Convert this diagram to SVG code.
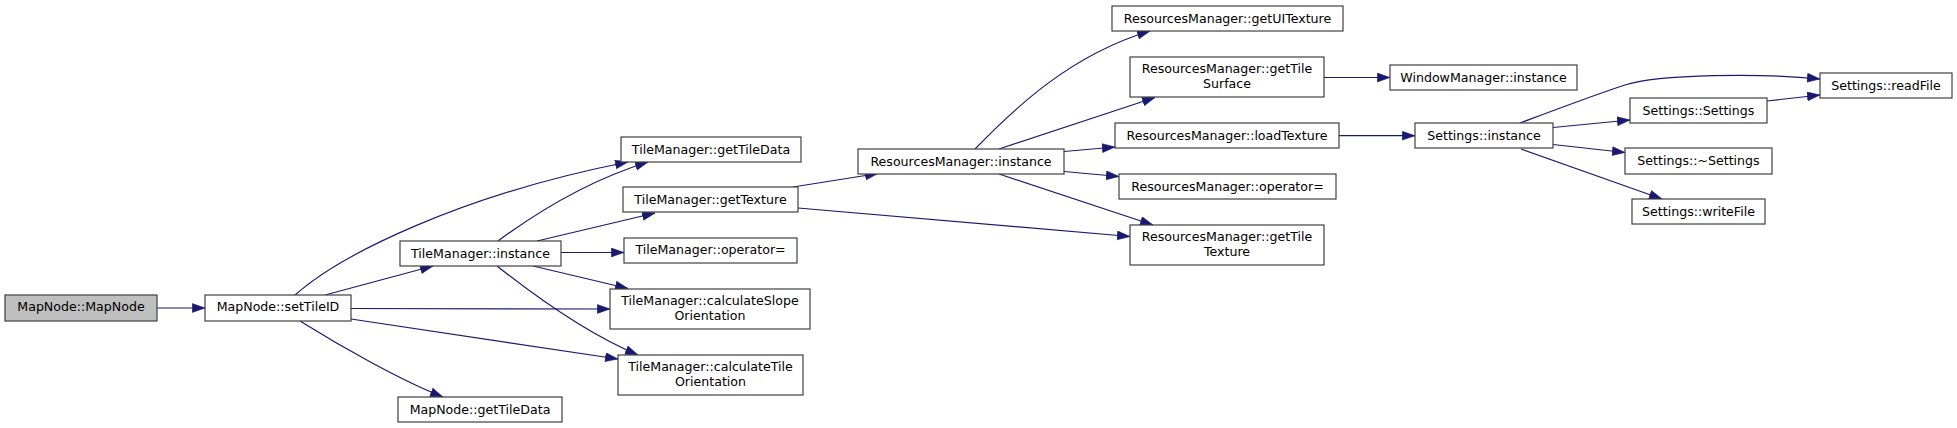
<svg xmlns="http://www.w3.org/2000/svg" width="1957" height="428" viewBox="0 0 1957 428">
<style>
.n rect{fill:#fff;stroke:#404040;stroke-width:1.2}
.root rect{fill:#bfbfbf}
.n text{font-family:"DejaVu Sans",sans-serif;font-size:12.6px;fill:#000;text-anchor:middle}
.e path{fill:none;stroke:#191970;stroke-width:1.2;marker-end:url(#a)}
</style>
<defs>
<marker id="a" markerUnits="userSpaceOnUse" markerWidth="14" markerHeight="11" refX="13" refY="4.7" orient="auto">
<path d="M0.3,0.3 L13,4.7 L0.3,9.1 z" fill="#191970" stroke="#191970" stroke-width="0.6"/>
</marker>
</defs>
<rect width="1957" height="428" fill="#fff"/>
<g id="edges" class="e">
<path d="M157,308 L205,308"/>
<path d="M295,295 C340,255 460,195 628,162"/>
<path d="M325,295 L433,266"/>
<path d="M351,308.5 L610,309"/>
<path d="M351,319 L618,359"/>
<path d="M300,321 C340,346 400,380 443,397"/>
<path d="M498,241 C540,210 590,180 648,162"/>
<path d="M537,241 L655,213"/>
<path d="M561,252.5 L624,252.5"/>
<path d="M533,266 L628,288.5"/>
<path d="M497,266 C540,300 590,335 638,355"/>
<path d="M793,187 L878,173.5"/>
<path d="M798,208 L1130,236.5"/>
<path d="M975,149 C1015,108 1070,55 1150,31"/>
<path d="M999,149 L1155,97.5"/>
<path d="M1064,151.5 L1115,147"/>
<path d="M1064,171.5 L1119,176.5"/>
<path d="M999,174 L1153,225"/>
<path d="M1324,77.5 L1390,77.5"/>
<path d="M1339,135.7 L1415,135.7"/>
<path d="M1520,123 C1560,108 1600,93 1625,85 C1660,74 1760,73 1820,79"/>
<path d="M1553,127.5 L1630,120"/>
<path d="M1553,144.5 L1625,152.5"/>
<path d="M1521,149 L1662,199"/>
<path d="M1767,101 L1820,95"/>
</g>
<g id="MapNode_MapNode" class="n root"><rect x="5" y="295" width="152" height="26"/><text x="81" y="311">MapNode::MapNode</text></g>
<g id="MapNode_setTileID" class="n"><rect x="205" y="295" width="146" height="26"/><text x="278" y="311">MapNode::setTileID</text></g>
<g id="TileManager_getTileData" class="n"><rect x="621" y="137" width="180" height="25"/><text x="711" y="153.5">TileManager::getTileData</text></g>
<g id="TileManager_getTexture" class="n"><rect x="623" y="187" width="175" height="25"/><text x="710.5" y="203.5">TileManager::getTexture</text></g>
<g id="TileManager_operator_eq" class="n"><rect x="624" y="238" width="173" height="25"/><text x="710.5" y="254">TileManager::operator=</text></g>
<g id="TileManager_calculateSlopeOrientation" class="n"><rect x="610" y="289" width="200" height="40"/><text x="710" y="305">TileManager::calculateSlope</text><text x="710" y="319.5">Orientation</text></g>
<g id="TileManager_calculateTileOrientation" class="n"><rect x="618" y="355" width="185" height="40"/><text x="710.5" y="371">TileManager::calculateTile</text><text x="710.5" y="385.5">Orientation</text></g>
<g id="TileManager_instance" class="n"><rect x="400" y="241" width="161" height="25"/><text x="480.5" y="257.5">TileManager::instance</text></g>
<g id="MapNode_getTileData" class="n"><rect x="398" y="397" width="164" height="25"/><text x="480" y="413.5">MapNode::getTileData</text></g>
<g id="ResourcesManager_instance" class="n"><rect x="858" y="149" width="206" height="25"/><text x="961" y="165.5">ResourcesManager::instance</text></g>
<g id="ResourcesManager_getUITexture" class="n"><rect x="1112" y="6" width="231" height="25"/><text x="1227.5" y="22.5">ResourcesManager::getUITexture</text></g>
<g id="ResourcesManager_getTileSurface" class="n"><rect x="1130" y="57" width="194" height="40"/><text x="1227" y="73">ResourcesManager::getTile</text><text x="1227" y="87.5">Surface</text></g>
<g id="ResourcesManager_loadTexture" class="n"><rect x="1115" y="123" width="224" height="25"/><text x="1227" y="139.5">ResourcesManager::loadTexture</text></g>
<g id="ResourcesManager_operator_eq" class="n"><rect x="1119" y="174" width="217" height="25"/><text x="1227.5" y="190.5">ResourcesManager::operator=</text></g>
<g id="ResourcesManager_getTileTexture" class="n"><rect x="1130" y="225" width="194" height="40"/><text x="1227" y="241">ResourcesManager::getTile</text><text x="1227" y="255.5">Texture</text></g>
<g id="WindowManager_instance" class="n"><rect x="1390" y="65" width="187" height="25"/><text x="1483.5" y="81.5">WindowManager::instance</text></g>
<g id="Settings_instance" class="n"><rect x="1415" y="123" width="138" height="25"/><text x="1484" y="139.5">Settings::instance</text></g>
<g id="Settings_readFile" class="n"><rect x="1820" y="73" width="132" height="25"/><text x="1886" y="89.5">Settings::readFile</text></g>
<g id="Settings_Settings" class="n"><rect x="1630" y="98" width="137" height="25"/><text x="1698.5" y="114.5">Settings::Settings</text></g>
<g id="Settings_dtor" class="n"><rect x="1625" y="148" width="147" height="26"/><text x="1698.5" y="165">Settings::~Settings</text></g>
<g id="Settings_writeFile" class="n"><rect x="1632" y="199" width="133" height="25"/><text x="1698.5" y="215.5">Settings::writeFile</text></g>
</svg>
